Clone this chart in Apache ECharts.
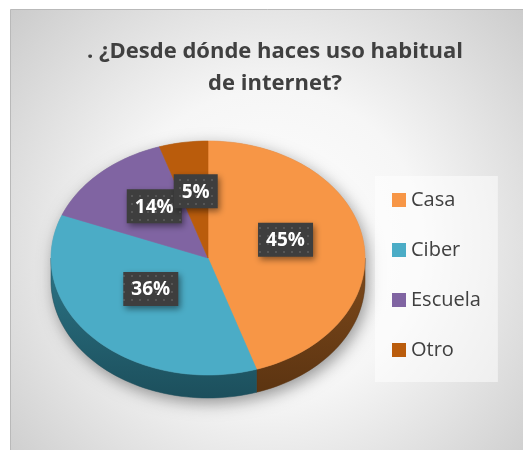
<!DOCTYPE html>
<html>
<head>
<meta charset="utf-8">
<script src="https://cdn.jsdelivr.net/npm/echarts@6/dist/echarts.min.js"></script>
<style>
html,body{margin:0;padding:0;background:#ffffff;}
#chart{width:523px;height:450px;}
</style>
</head>
<body>
<div id="chart"></div>
<script>
// ---- data ----
const categories = ['Casa', 'Ciber', 'Escuela', 'Otro'];
const values = [45, 36, 14, 5];
const valueLabels = ['45%', '36%', '14%', '5%'];
const titleText = '. ¿Desde dónde haces uso habitual\nde internet?';

// ---- styles ----
const topColors = ['#F79646', '#4BACC6', '#8064A2', '#BA5C0C'];
const sideColors = [['#7e4a1c', '#5c3411'], ['#2c7587', '#1c4f5c'], ['#5b4676', '#3d2f52'], ['#7c3d07', '#5a2b04']];

// ---- geometry of the pseudo-3D pie ----
const CX = 208, CY = 258, RX = 157, RY = 117, DEPTH = 23;
const total = values.reduce((a, b) => a + b, 0);

function pt(deg, dy) {
  const t = deg * Math.PI / 180;
  return [CX + RX * Math.sin(t), CY - RY * Math.cos(t) + dy];
}
function arc(a0, a1, dy) {
  const n = Math.max(2, Math.ceil(Math.abs(a1 - a0) / 2));
  const out = [];
  for (let k = 0; k <= n; k++) out.push(pt(a0 + (a1 - a0) * k / n, dy));
  return out;
}
function startAngle(i) {
  let s = 0;
  for (let k = 0; k < i; k++) s += values[k];
  return s / total * 360;
}

// dotted pattern for label boxes
const pat = document.createElement('canvas');
pat.width = 8; pat.height = 8;
const pctx = pat.getContext('2d');
pctx.fillStyle = '#3e3e3e'; pctx.fillRect(0, 0, 8, 8);
pctx.fillStyle = '#565656'; pctx.fillRect(3, 3, 2, 2);

const meas = document.createElement('canvas').getContext('2d');
const LABEL_FONT = 'bold 19px "Open Sans"';
meas.font = LABEL_FONT;

function sliceRenderer(i) {
  return function (params, api) {
    const v = api.value(0);
    const a0 = startAngle(i);
    const a1 = a0 + v / total * 360;
    const children = [];
    const s0 = Math.max(a0, 90), s1 = Math.min(a1, 270);
    if (s1 > s0) {
      const pts = arc(s0, s1, 0).concat(arc(s1, s0, DEPTH));
      children.push({
        type: 'polygon',
        shape: { points: pts },
        style: {
          fill: new echarts.graphic.LinearGradient(0, 0, 0, 1, [
            { offset: 0, color: sideColors[i][0] },
            { offset: 1, color: sideColors[i][1] }
          ]),
          stroke: sideColors[i][1], lineWidth: 0.5
        }
      });
    }
    children.push({
      type: 'polygon',
      shape: { points: [[CX, CY]].concat(arc(a0, a1, 0)) },
      style: { fill: topColors[i], stroke: topColors[i], lineWidth: 0.6 }
    });
    return { type: 'group', children: children };
  };
}

function labelRenderer(params, api) {
  const i = params.dataIndex;
  const v = api.value(0);
  const a0 = startAngle(i);
  const mid = a0 + v / total * 360 / 2;
  const t = mid * Math.PI / 180;
  const x = CX + RX * 0.5 * Math.sin(t);
  const y = CY - RY * 0.5 * Math.cos(t) - 9;
  const txt = valueLabels[i];
  const w = Math.round(meas.measureText(txt).width) + 16;
  const h = 34;
  return {
    type: 'group',
    children: [
      {
        type: 'rect',
        shape: { x: x - w / 2, y: y - h / 2, width: w, height: h },
        style: {
          fill: { image: pat, repeat: 'repeat' },
          shadowBlur: 6, shadowColor: 'rgba(0,0,0,0.45)', shadowOffsetX: 2, shadowOffsetY: 3
        }
      },
      {
        type: 'text',
        style: {
          x: x, y: y + 1, text: txt, align: 'center', verticalAlign: 'middle',
          font: LABEL_FONT, fill: '#ffffff'
        }
      }
    ]
  };
}

// silhouette for the soft shadow under the pie
const silhouette = arc(-90, 90, 0).concat(arc(90, 270, DEPTH));

const series = categories.map((name, i) => ({
  type: 'custom',
  name: name,
  coordinateSystem: 'none',
  z: 2,
  itemStyle: { color: topColors[i] },
  data: [[values[i]]],
  renderItem: sliceRenderer(i),
  silent: true
}));
series.push({
  type: 'custom',
  name: 'labels',
  coordinateSystem: 'none',
  z: 6,
  data: values.map(v => [v]),
  renderItem: labelRenderer,
  silent: true
});

const chart = echarts.init(document.getElementById('chart'), null, { renderer: 'canvas' });
chart.setOption({
  animation: false,
  title: {
    text: titleText,
    left: 270,
    textAlign: 'center',
    top: 31,
    textStyle: { fontFamily: 'Open Sans', fontWeight: 'bold', fontSize: 22, lineHeight: 32, color: '#404040' }
  },
  legend: {
    data: categories,
    orient: 'vertical',
    left: 375,
    top: 176,
    padding: [14, 17, 22, 17],
    itemWidth: 14,
    itemHeight: 14,
    itemGap: 30,
    icon: 'rect',
    backgroundColor: 'rgba(255,255,255,0.5)',
    textStyle: { fontFamily: 'Open Sans', fontSize: 20, color: '#404040' },
    selectedMode: false
  },
  graphic: [
    {
      type: 'rect', z: -10, silent: true,
      shape: { x: 10.5, y: 9.5, width: 520, height: 450 },
      style: {
        fill: new echarts.graphic.RadialGradient(0.5, 0.52, 0.85, [
          { offset: 0, color: '#ffffff' },
          { offset: 0.4, color: '#f6f6f6' },
          { offset: 1, color: '#c4c4c4' }
        ]),
        stroke: '#b9b9b9', lineWidth: 1
      }
    },
    {
      type: 'polygon', z: 1, silent: true,
      shape: { points: silhouette },
      style: { fill: '#999', shadowBlur: 16, shadowColor: 'rgba(0,0,0,0.4)', shadowOffsetX: 3, shadowOffsetY: 5 }
    }
  ],
  series: series
});
</script>
</body>
</html>
